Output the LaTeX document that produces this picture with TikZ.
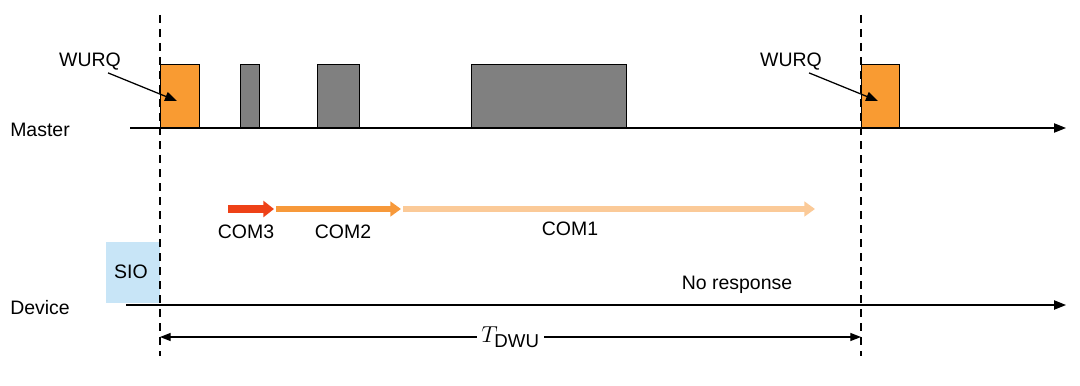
\documentclass[tikz,border=0pt]{standalone}
\usepackage{fontspec}
\setmainfont{Liberation Sans}
\usetikzlibrary{arrows.meta}
\definecolor{wurq}{HTML}{F99B32}
\definecolor{gbox}{HTML}{808080}
\definecolor{cthree}{HTML}{EE4117}
\definecolor{ctwo}{HTML}{F7993A}
\definecolor{cone}{HTML}{FBCA98}
\definecolor{sio}{HTML}{C8E5F7}
\begin{document}
\begin{tikzpicture}[x=0.75pt,y=-0.75pt,
  lbl/.style={font=\fontsize{14.6}{17}\selectfont, inner sep=0pt},
  pulse/.style={draw=black, line width=0.9pt, anchor=south west, inner sep=0pt, minimum height=47.25pt},
  axis/.style={line width=0.95pt, -{Triangle[length=9pt,width=7pt]}},
  guide/.style={line width=0.95pt, dash pattern=on 6pt off 4.5pt},
  blockarrow/.style={line width=4.8pt, -{Triangle[length=8pt,width=11pt]}},
  ptr/.style={line width=0.95pt, -{Triangle[length=9pt,width=7pt]}}]
\useasboundingbox (0,0) rectangle (1080,385);
% SIO box
\node[fill=sio, anchor=north west, minimum width=40.5pt, minimum height=45.75pt, inner sep=0pt] (sio) at (106,242) {};
\node[lbl] (siol) at (131,272) {SIO};
% guides
\coordinate (g1t) at (160,15); \coordinate (g1b) at (160,356);
\coordinate (g2t) at (861,15); \coordinate (g2b) at (861,356);
\draw[guide] (g1t) -- (g1b);
\draw[guide] (g2t) -- (g2b);
% pulses
\node[pulse, fill=wurq, minimum width=29.25pt] (w1) at (160,128) {};
\node[pulse, fill=gbox, minimum width=14.25pt] (p1) at (240,128) {};
\node[pulse, fill=gbox, minimum width=31.5pt] (p2) at (317,128) {};
\node[pulse, fill=gbox, minimum width=116.25pt] (p3) at (471,128) {};
\node[pulse, fill=wurq, minimum width=28.5pt] (w2) at (861,128) {};
% axes
\coordinate (ms) at (130,128); \coordinate (me) at (1066,128);
\coordinate (ds) at (126,305); \coordinate (de) at (1066,305);
\draw[axis] (ms) -- (me);
\draw[axis] (ds) -- (de);
\node[lbl, anchor=west] (master) at (10,130) {Master};
\node[lbl, anchor=west] (device) at (10,308) {Device};
% WURQ labels
\node[lbl] (wl1) at (90,62) {WURQ};
\node[lbl] (wl2) at (791,62) {WURQ};
\coordinate (wt1) at (177,101); \coordinate (wt2) at (878,101);
\draw[ptr] (wl1.south east) ++(-13,2) -- (wt1);
\draw[ptr] (wl2.south east) ++(-13,2) -- (wt2);
% COM arrows
\coordinate (c3s) at (228,209); \coordinate (c3e) at (274,209);
\coordinate (c2s) at (276,209); \coordinate (c2e) at (401,209);
\coordinate (c1s) at (403,209); \coordinate (c1e) at (815,209);
\draw[blockarrow, cthree, line width=5.5pt, -{Triangle[length=8pt,width=12pt]}] (c3s) -- (c3e);
\draw[blockarrow, ctwo] (c2s) -- (c2e);
\draw[blockarrow, cone] (c1s) -- (c1e);
\node[lbl] (com3) at (246,232) {COM3};
\node[lbl] (com2) at (343,232) {COM2};
\node[lbl] (com1) at (570,229) {COM1};
\node[lbl] (nr) at (737,285) {No response};
% T_DWU
\coordinate (ta) at (160,337); \coordinate (tb) at (861,337);
\draw[line width=0.95pt, {Triangle[length=8pt,width=6pt]}-{Triangle[length=8pt,width=6pt]}] (ta) -- node[fill=white, inner sep=3pt, font=\fontsize{17}{20}\selectfont] (tdwu) {$T_{\mbox{\fontsize{14}{16}\selectfont DWU}}$} (tb);
\end{tikzpicture}
\end{document}
